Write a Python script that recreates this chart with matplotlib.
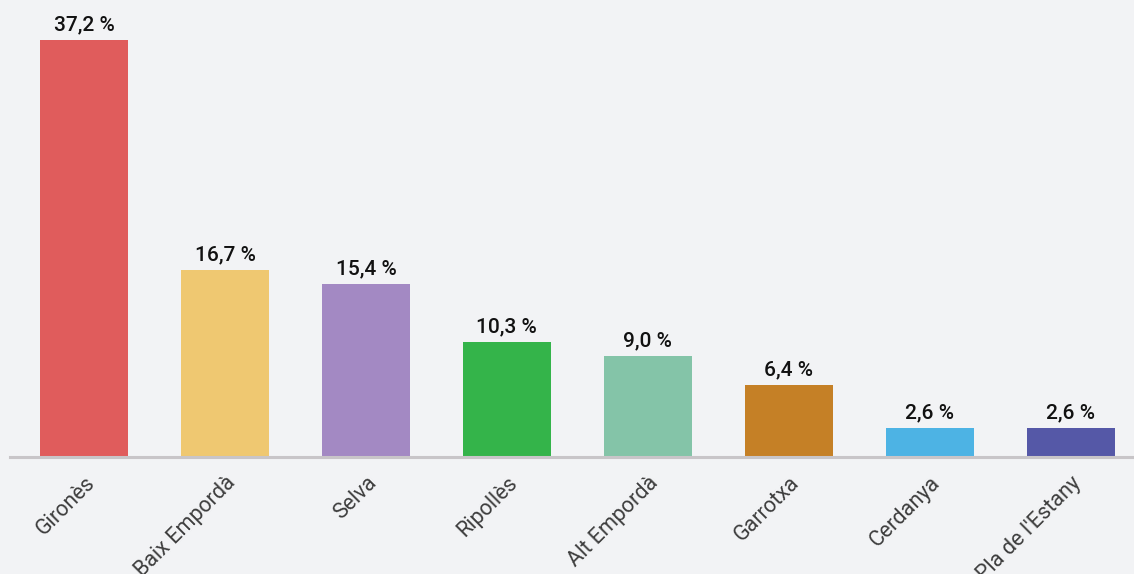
"""
Share by comarca - bar chart
"""

import matplotlib.pyplot as plt

#---------------------------------------------------------------------------------------------------
# Data
#---------------------------------------------------------------------------------------------------

comarques = ['Gironès', 'Baix Empordà', 'Selva', 'Ripollès', 'Alt Empordà', 'Garrotxa',
             'Cerdanya', "Pla de l'Estany"]
values = [37.2, 16.7, 15.4, 10.3, 9.0, 6.4, 2.6, 2.6]
colors = ['#e05c5c', '#efc871', '#a389c3', '#34b44a', '#84c4a8', '#c58026', '#4db3e4', '#5558a7']

bg = '#f2f3f5'

#---------------------------------------------------------------------------------------------------
# Plot
#---------------------------------------------------------------------------------------------------

plt.rcParams['font.family'] = ['Roboto', 'DejaVu Sans']

fig = plt.figure(figsize=(11.34, 5.74), dpi=100, facecolor=bg)
ax = fig.add_axes([10/1134, 117/574, 1131/1134, 457/574])
ax.set_facecolor(bg)

x = range(len(values))
ax.bar(x, values, width=0.625, color=colors, zorder=2)

for xi, v in zip(x, values):
    ax.annotate(f'{v:.1f} %'.replace('.', ','), (xi, v), xytext=(0, 4),
                textcoords='offset points', ha='center', va='bottom',
                fontsize=15, fontweight='medium', color='#111111')

ax.set_xlim(-0.526, 7.5)
ax.set_ylim(0, 40.77)

for s in ['top', 'right', 'left']:
    ax.spines[s].set_visible(False)
ax.spines['bottom'].set_color('#c8c5c8')
ax.spines['bottom'].set_linewidth(2.2)
ax.spines['bottom'].set_zorder(3)

ax.set_yticks([])
ax.set_xticks(list(x))
ax.set_xticklabels(comarques, rotation=45, ha='right', va='top', rotation_mode='anchor',
                   fontsize=15.5, color='#3d3d3d')
ax.tick_params(axis='x', length=0, pad=11)

plt.savefig('out.png', dpi=100, facecolor=bg)
